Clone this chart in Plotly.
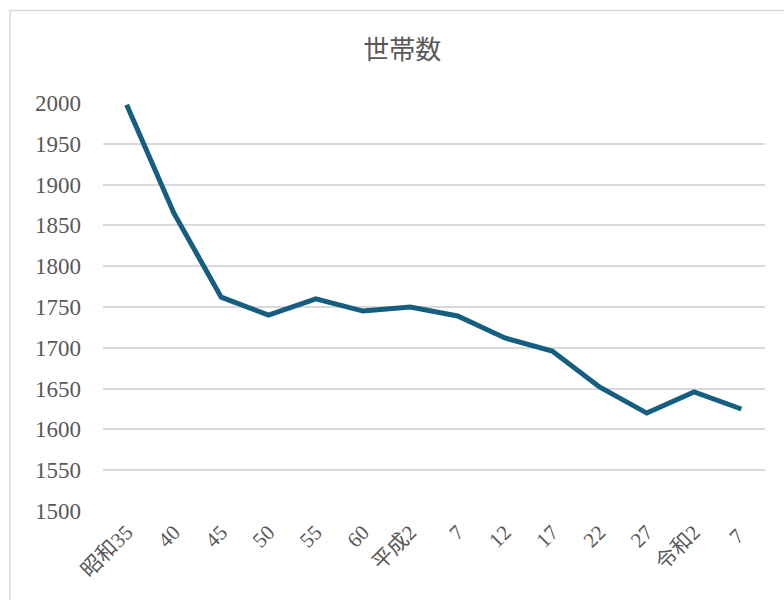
import plotly.graph_objects as go

categories = ["昭和35", "40", "45", "50", "55", "60", "平成2", "7", "12", "17", "22", "27", "令和2", "7 "]
households = [1998, 1865, 1762, 1740, 1760, 1745, 1750, 1739, 1712, 1696, 1652, 1620, 1646, 1625]
y_ticks = list(range(1500, 2001, 50))

font_family = "Liberation Serif, Noto Sans CJK JP, serif"
grey = "#595959"

fig = go.Figure()
fig.add_trace(go.Scatter(
    x=list(range(len(categories))), y=households, mode="lines",
    line=dict(color="#165E80", width=5), hoverinfo="skip"))

fig.update_layout(
    width=784, height=600,
    margin=dict(l=103, r=19, t=103, b=89),
    paper_bgcolor="white", plot_bgcolor="white",
    showlegend=False,
    title=dict(text="世帯数", x=0.513, xref="container", xanchor="center",
               y=1 - 50 / 600, yref="container", yanchor="middle",
               font=dict(family=font_family, size=26, color=grey)),
    xaxis=dict(tickmode="array", tickvals=list(range(len(categories))), ticktext=categories,
               range=[-0.5, len(categories) - 0.5], tickangle=-45, showgrid=False,
               zeroline=False, showline=False, ticks="", ticklabelstandoff=4,
               tickfont=dict(family=font_family, size=21, color=grey)),
    yaxis=dict(range=[1500, 2000], tickvals=y_ticks, showgrid=True, gridcolor="#d9d9d9",
               gridwidth=1.5, zeroline=False, showline=False, ticks="", ticklabelstandoff=21,
               tickfont=dict(family=font_family, size=23, color=grey)),
    shapes=[dict(type="rect", xref="paper", yref="paper",
                 x0=(10 - 103) / 662, x1=(810 - 103) / 662,
                 y0=(511 - 620) / 408, y1=(511 - 10.5) / 408,
                 line=dict(color="#d9d9d9", width=1.5), fillcolor="rgba(0,0,0,0)", layer="below")],
)
fig.update_yaxes(automargin=False)
fig.update_xaxes(automargin=False)
fig.write_html("out.html")
